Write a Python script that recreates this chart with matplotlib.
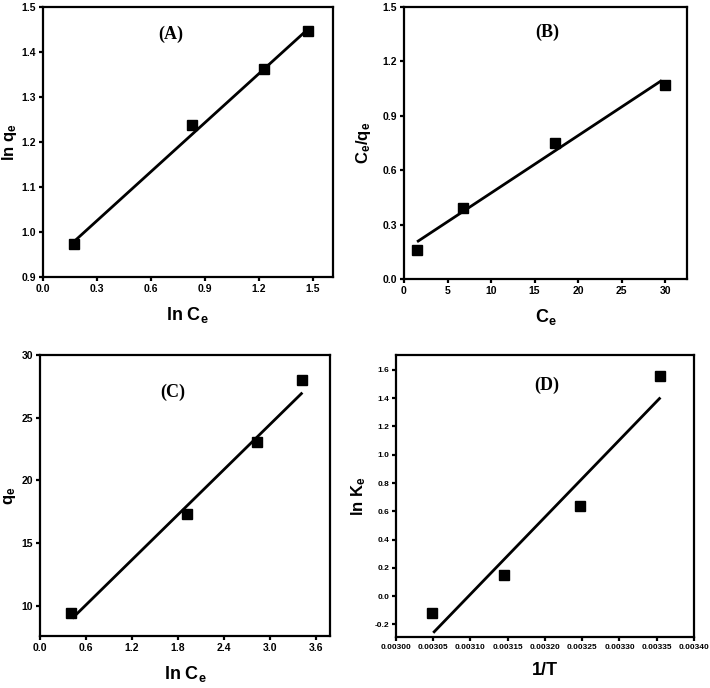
import matplotlib
matplotlib.use("Agg")
import matplotlib.pyplot as plt
from matplotlib import font_manager as fm
import numpy as np

# ---- data ----
a_x = [0.17, 0.83, 1.23, 1.47]
a_y = [0.973, 1.237, 1.363, 1.447]
a_fit_x = [0.17, 1.47]
a_fit_y = [0.978, 1.450]

b_x = [1.5, 6.8, 17.3, 30.0]
b_y = [0.16, 0.39, 0.75, 1.07]
b_fit_x = [1.5, 29.6]
b_fit_y = [0.205, 1.095]

c_x = [0.40, 1.92, 2.83, 3.41]
c_y = [9.4, 17.3, 23.1, 28.0]
c_fit_x = [0.42, 3.42]
c_fit_y = [9.0, 27.0]

d_x = [0.003049, 0.003145, 0.003247, 0.003355]
d_y = [-0.12, 0.15, 0.64, 1.555]
d_fit_x = [0.00305, 0.003355]
d_fit_y = [-0.26, 1.405]

a_xticks = [0.0, 0.3, 0.6, 0.9, 1.2, 1.5]
a_yticks = [0.9, 1.0, 1.1, 1.2, 1.3, 1.4, 1.5]
b_xticks = [0, 5, 10, 15, 20, 25, 30]
b_yticks = [0.0, 0.3, 0.6, 0.9, 1.2, 1.5]
c_xticks = [0.0, 0.6, 1.2, 1.8, 2.4, 3.0, 3.6]
c_yticks = [10, 15, 20, 25, 30]
d_xticks = [0.00300, 0.00305, 0.00310, 0.00315, 0.00320, 0.00325, 0.00330, 0.00335, 0.00340]
d_yticks = [-0.2, 0.0, 0.2, 0.4, 0.6, 0.8, 1.0, 1.2, 1.4, 1.6]

# ---- fonts ----
names = {f.name for f in fm.fontManager.ttflist}
tick_family = 'Liberation Sans Narrow' if 'Liberation Sans Narrow' in names else 'Liberation Sans'
plt.rcParams['font.family'] = ['Liberation Sans', 'DejaVu Sans']
plt.rcParams['mathtext.fontset'] = 'custom'
plt.rcParams['mathtext.rm'] = 'Liberation Sans:bold'
plt.rcParams['mathtext.bf'] = 'Liberation Sans:bold'
plt.rcParams['mathtext.it'] = 'Liberation Sans:bold'

fig = plt.figure(figsize=(7.1, 6.88), dpi=100)

panels = [
    dict(pos=[0.0606, 0.5974, 0.408, 0.3924], x=a_x, y=a_y, fx=a_fit_x, fy=a_fit_y,
         xlim=(0, 1.61), ylim=(0.9, 1.5), xt=a_xticks, yt=a_yticks, xfmt='{:.1f}', yfmt='{:.1f}',
         xl=r'ln C$_\mathbf{e}$', yl=r'ln q$_\mathbf{e}$', lab='(A)', lp=(0.44, 0.90), ylx=-0.082),
    dict(pos=[0.569, 0.5945, 0.3986, 0.3953], x=b_x, y=b_y, fx=b_fit_x, fy=b_fit_y,
         xlim=(0, 32.5), ylim=(0.0, 1.5), xt=b_xticks, yt=b_yticks, xfmt='{:.0f}', yfmt='{:.1f}',
         xl=r'C$_\mathbf{e}$', yl=r'C$_\mathbf{e}$/q$_\mathbf{e}$', lab='(B)', lp=(0.505, 0.908), ylx=-0.11),
    dict(pos=[0.0563, 0.0756, 0.4085, 0.4084], x=c_x, y=c_y, fx=c_fit_x, fy=c_fit_y,
         xlim=(0, 3.78), ylim=(7.6, 30), xt=c_xticks, yt=c_yticks, xfmt='{:.1f}', yfmt='{:.0f}',
         xl=r'ln C$_\mathbf{e}$', yl=r'q$_\mathbf{e}$', lab='(C)', lp=(0.459, 0.868), ylx=-0.076),
    dict(pos=[0.5577, 0.0741, 0.4197, 0.4099], x=d_x, y=d_y, fx=d_fit_x, fy=d_fit_y,
         xlim=(0.00300, 0.00340), ylim=(-0.29, 1.706), xt=d_xticks, yt=d_yticks, xfmt='{:.5f}', yfmt='{:.1f}',
         xl='1/T', yl=r'ln K$_\mathbf{e}$', lab='(D)', lp=(0.507, 0.894), ylx=-0.094),
]

for p in panels:
    ax = fig.add_axes(p['pos'])
    ax.plot(p['fx'], p['fy'], color='black', lw=2.0, solid_capstyle='butt')
    ax.plot(p['x'], p['y'], ls='none', marker='s', ms=6.5, color='black')
    ax.set_xlim(*p['xlim'])
    ax.set_ylim(*p['ylim'])
    ax.set_xticks(p['xt'])
    ax.set_yticks(p['yt'])
    ax.set_xticklabels([p['xfmt'].format(v) for v in p['xt']])
    ax.set_yticklabels([p['yfmt'].format(v) for v in p['yt']])
    for s in ax.spines.values():
        s.set_linewidth(1.6)
    ax.tick_params(direction='out', length=3, width=1.6, pad=2)
    fs = 6 if p['lab'] == '(D)' else 7.5
    for t in ax.get_xticklabels() + ax.get_yticklabels():
        t.set_fontfamily(tick_family)
        t.set_fontweight('bold')
        t.set_fontsize(fs)
    ax.set_xlabel(p['xl'], fontsize=13, fontweight='bold', labelpad=8)
    ax.set_ylabel(p['yl'], fontsize=12, fontweight='bold')
    ax.yaxis.set_label_coords(p['ylx'], 0.5)
    ax.text(p['lp'][0], p['lp'][1], p['lab'], transform=ax.transAxes, ha='center', va='center',
            fontsize=13, fontweight='bold', family='Liberation Serif')

fig.savefig('out.png', dpi=100)
